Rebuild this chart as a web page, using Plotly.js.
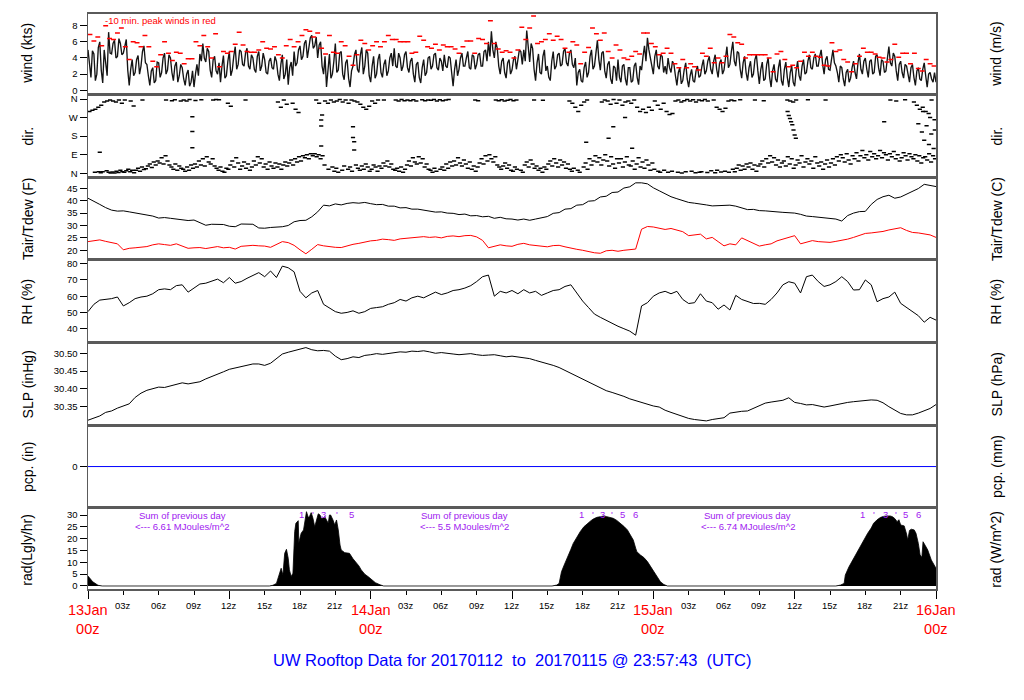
<!DOCTYPE html>
<html><head><meta charset="utf-8">
<script src="https://cdn.plot.ly/plotly-3.0.1.min.js"></script>
<style>html,body{margin:0;padding:0;background:#fff}#chart{width:1024px;height:700px}</style>
</head><body><div id="chart"></div>
<script>
const _ = null;
// ---------------- DATA (hours after 13Jan 00z) ----------------
// wind speed (kts), 15-minute samples on the quarter hour, hours 0..72
const windKts = [
5.0,1.6,4.5,2.0, 6.0,0.9,3.5,7.2, 4.5,6.2,4.2,5.8, 4.6,6.3,0.6,3.8, 2.2,4.3,3.0,5.5, 3.2,0.6,2.8,1.2,
3.4,2.2,4.6,2.5, 4.0,1.2,3.5,1.8, 2.8,0.6,2.5,1.0, 0.4,3.2,4.5,5.8, 3.5,4.8,1.6,4.2, 2.0,1.0,4.3,1.8,
4.8,2.5,5.4,3.2, 4.8,3.0,5.2,2.6, 4.0,2.2,4.8,3.0, 3.8,2.0,4.0,2.6, 3.6,1.2,4.4,2.0, 0.7,3.5,4.8,3.4,
5.5,4.2,6.2,5.0, 6.8,5.5,4.0,6.0, 2.0,0.4,4.5,2.0, 5.8,2.5,4.8,1.3, 3.8,0.4,3.0,5.0, 2.2,5.3,3.0,4.6,
1.0,4.2,2.0,4.5, 1.6,3.8,2.4,4.6, 5.2,2.8,4.0,3.0, 4.8,2.2,4.0,1.0, 3.5,0.9,3.8,2.2, 4.2,3.0,4.6,2.5,
3.6,4.4,2.8,4.0, 0.5,3.8,2.6,4.6, 3.0,4.8,2.6,4.2, 3.2,4.6,3.0,5.0, 6.0,7.3,4.0,5.2, 2.0,4.0,1.5,3.8,
2.5,4.2,3.6,4.8, 5.0,7.4,3.5,5.2, 1.2,4.5,2.0,5.0, 3.0,1.2,4.8,3.0, 4.6,3.2,5.2,3.0, 5.0,2.8,0.6,2.6,
1.0,3.5,2.2,5.0, 3.0,6.2,2.5,4.8, 1.5,3.6,0.8,2.8, 3.8,1.0,3.2,0.6, 2.8,1.2,3.4,0.7, 2.5,5.5,6.5,4.0,
2.0,5.0,2.6,4.2, 3.0,4.0,2.2,3.2, 0.6,2.8,1.2,3.4, 0.4,2.6,1.0,3.0, 1.8,3.8,2.4,4.2, 2.0,4.4,1.6,3.8,
2.5,5.4,3.2,6.0, 3.0,4.6,1.5,4.2, 1.2,3.6,2.0,4.4, 0.8,3.5,1.4,4.0, 0.4,3.2,1.0,3.8, 0.6,3.5,0.4,3.0,
0.5,3.6,1.2,3.8, 2.2,4.4,2.6,4.5, 3.0,5.0,2.0,4.2, 2.5,5.0,3.0,1.0, 2.8,0.5,2.6,1.5, 3.6,1.4,4.5,2.0,
4.0,1.6,3.8,2.2, 4.4,1.8,3.6,2.4, 5.4,3.0,4.2,1.2, 3.6,1.5,3.0,1.0, 3.2,0.6,2.8,1.2, 3.4,0.4,2.2,1.0,
1.0];
// wind speed (kts), samples half-way between the above (7.5 min past each quarter)
const windKtsMid = [
2.8,4.9,1.2,5.3, 2.5,5.0,1.8,4.6, 5.8,4.0,6.4,4.4, 5.5,2.5,2.6,1.8, 3.8,2.0,4.8,3.4, 1.8,2.4,0.9,3.5,
1.6,4.0,2.0,4.4, 2.2,3.0,1.0,3.2, 1.4,2.0,0.5,2.4, 2.0,1.8,3.6,4.0, 5.2,2.5,3.8,2.4, 3.4,3.0,1.5,3.6,
1.8,4.2,2.6,5.0, 3.2,4.6,3.0,4.4, 2.6,4.2,2.4,4.6, 2.2,3.6,2.8,4.2, 2.0,3.2,1.4,3.8, 2.8,1.8,3.0,5.0,
3.8,5.8,4.0,6.5, 5.2,6.6,5.6,3.0, 4.2,2.5,1.5,3.6, 2.2,4.6,2.0,3.4, 1.5,2.4,4.4,2.6, 4.4,2.0,5.0,1.8,
3.0,1.5,3.8,2.2, 3.2,1.8,4.0,3.0, 3.0,4.6,2.4,4.4, 2.8,3.6,2.0,3.2, 1.6,2.8,1.8,4.0, 2.6,4.4,2.8,4.0,
2.4,3.0,4.2,2.2, 2.6,1.8,4.0,3.0, 4.0,2.8,4.4,2.6, 4.4,3.0,4.8,3.6, 4.2,5.0,6.0,3.0, 3.6,2.2,3.4,2.0,
3.8,2.6,5.0,3.2, 3.6,5.6,5.8,2.6, 3.4,2.2,4.2,2.4, 1.6,3.6,2.6,4.4, 3.0,4.8,3.4,4.6, 3.2,4.0,2.2,1.2,
2.8,1.6,4.2,2.6, 4.6,3.8,4.6,2.4, 3.2,1.4,3.0,1.2, 1.6,3.0,1.4,2.8, 1.0,3.0,1.6,3.0, 4.2,3.6,5.0,2.6,
4.2,3.0,4.4,2.2, 2.0,2.8,3.6,1.8, 2.2,0.8,2.6,1.4, 1.8,1.2,2.4,1.6, 3.0,2.0,3.6,2.6, 3.6,2.6,3.4,2.0,
4.0,2.8,4.8,3.6, 4.8,2.6,3.4,2.2, 2.8,1.6,3.8,2.4, 2.6,1.2,3.2,1.6, 2.4,1.4,2.8,1.2, 2.6,1.6,2.2,1.0,
2.4,1.8,3.0,2.0, 3.6,2.8,4.0,3.0, 4.2,3.2,3.8,2.6, 3.8,3.4,2.2,3.0, 1.4,2.2,1.0,2.8, 2.2,3.4,2.6,3.6,
2.6,3.6,2.0,4.2, 2.8,3.8,2.2,4.0, 3.4,4.6,2.4,3.2, 2.2,3.2,2.0,2.8, 1.6,2.4,1.4,2.6, 1.8,2.0,1.4,2.2];
// 10-min peak winds (kts), 3 per hour
const peakKts = [
6.9,6.1,6.6, 5.5,8.0,6.4, 6.3,7.1,7.7, 5.4,3.8,6.0, 5.9,5.4,6.8, 5.4,3.6,2.9, 4.4,6.0,4.6, 3.7,4.7,4.6,
3.3,3.9,3.9, 6.0,5.5,6.8, 5.4,4.0,7.0, 2.9,4.8,4.6, 4.8,5.7,7.2, 5.6,4.8,4.7, 4.7,5.0,6.0, 5.2,5.1,5.4,
4.4,4.0,5.5, 6.3,5.4,6.0, 6.8,7.5,7.3, 6.6,7.1,5.2, 4.5,6.8,4.7, 4.6,6.0,5.5, 4.2,3.1,4.4, 6.2,5.8,5.0,
5.5,6.0,5.4, 6.0,6.8,6.3, 6.3,6.0,6.0, 6.0,4.6,4.7, 6.7,6.2,5.4, 5.2,5.7,5.0, 5.6,5.4,5.4, 5.1,4.6,5.4,
6.1,6.1,4.6, 6.4,6.3,5.8, 8.6,5.8,5.1, 4.7,4.9,4.7, 4.0,5.0,7.8, 6.3,7.7,9.2, 5.8,6.0,6.3, 7.0,6.2,6.7,
6.3,5.2,4.7, 6.0,5.6,3.3, 4.7,5.3,7.7, 7.0,6.2,7.1, 4.8,4.0,5.6, 5.0,4.0,3.8, 4.2,4.8,4.5, 7.1,7.1,5.8,
5.4,4.4,4.6, 5.2,4.6,3.3, 2.8,3.8,2.8, 3.3,2.9,2.5, 4.6,4.2,5.2, 3.4,4.0,3.4, 4.2,6.9,6.6, 5.9,5.7,4.0,
4.4,4.4,4.4, 4.4,4.4,4.0, 2.3,4.5,4.8, 3.8,2.9,3.1, 2.8,3.6,4.7, 4.2,4.7,4.2, 4.1,3.1,3.0, 5.9,4.8,5.0,
3.8,3.5,2.3, 3.3,4.2,5.2, 4.7,4.7,4.5, 4.1,4.0,3.5, 3.8,5.7,4.1, 4.6,4.6,3.3, 4.6,2.7,2.4, 3.8,3.3,3.0];
// wind direction (deg), low band (N..E), 6 per hour
const dirLow = [
_,_,_,5,_,8, 3,8,_,12,5,2, 6,2,10,4,15,8, 5,12,20,8,15,3, 15,25,10,30,18,22, 35,45,28,55,40,60,
50,75,45,85,60,40, 30,20,45,15,35,25, 20,10,30,15,40,25, 45,30,60,40,70,35, 80,55,45,70,35,25, 15,30,10,5,25,20,
40,60,30,75,50,20, 35,55,25,45,15,30, 60,40,80,50,70,30, 45,20,55,35,25,50, 30,45,20,40,55,35, 50,65,40,70,55,80,
60,85,75,90,70,95, 85,95,80,90,70,85, 40,_,20,_,30,10, 25,5,_,15,35,_, 20,30,10,_,40,25, 15,35,20,45,30,10,
20,40,30,10,35,25, 50,35,60,30,45,20, 15,25,10,30,5,20, 40,60,35,75,55,45, 80,50,70,30,45,20, 15,5,25,10,_,20,
30,15,45,25,55,35, 60,40,75,50,35,65, 45,25,55,20,35,10, 30,50,70,45,85,60, 90,70,55,80,40,30, 20,35,50,25,40,15,
10,30,20,_,15,5, 40,55,30,65,45,25, 35,15,25,5,30,20, 45,60,35,70,50,30, 65,40,55,25,45,20, 10,25,_,15,5,_,
30,50,20,70,40,60, 85,55,75,40,65,90, 60,35,80,45,25,70, 50,70,30,55,80,40, 35,60,20,45,75,30, 55,25,65,40,15,50,
20,_,10,5,_,15, _,5,_,10,_,_, 5,_,2,_,8,_, _,10,_,3,_,5, 8,_,_,4,_,12, _,3,15,_,6,_,
10,_,5,_,20,8, 25,40,15,35,20,45, 30,50,20,40,10,35, 45,60,30,70,50,85, 55,75,40,65,30,50, 60,35,80,45,70,25,
40,65,50,85,30,55, 70,45,60,25,80,50, 35,55,20,45,65,30, 50,70,40,80,60,90, 75,55,95,65,45,85, 70,100,60,85,110,75,
90,65,105,80,95,70, 85,110,75,100,90,65, 95,80,105,70,90,60, 75,100,85,65,95,80, 70,90,60,85,50,75, 80,65,95,55,85,70];
// wind direction (deg), upper band (NW..N), 4 per hour
const dirHigh = [
300,305,310,320, 330,345,350,355, 350,345,355,340, 355,_,350,326, _,_,355,_, _,_,_,_,
_,_,355,_, 352,356,_,350, 355,350,357,_, 353,_,356,_, _,_,355,358, 356,_,_,340,
325,_,_,_, _,355,_,_, _,_,_,_, _,_,_,_, 345,320,355,335, _,340,310,295,
_,_,_,_, _,355,340,282, 350,340,355,345, 350,358,345,355, 340,355,350,345, 335,320,310,325,
350,340,355,_, 355,_,_,_, 355,350,358,352, 355,352,356,350, _,356,352,355, 354,357,350,356,
352,355,357,_, _,_,_,_, _,_,_,355, 352,_,_,_, _,_,355,352, 356,350,354,357,
352,355,_,_, _,_,_,355, _,_,354,_, _,_,_,_, _,_,_,350, 340,320,300,330,
345,355,_,_, _,_,345,355, 350,335,358,340, 355,330,345,350, 340,355,320,300, 310,295,320,305,
350,330,310,340, 300,285,290,350, 355,345,352,358, 350,356,345,355, 352,357,350,_, 355,320,310,300,
315,350,355,352, _,356,_,_, _,_,355,_, _,352,_,_, _,_,_,_, _,355,350,345,
355,_,_,_, 356,_,_,_, _,_,355,_, _,_,_,_, _,_,_,_, _,_,_,_,
_,_,_,_, _,_,_,_, 355,_,350,_, _,356,_,_, 345,330,310,320, 300,290,355,260];
// scattered direction readings
const dirOddH = [1.0,8.86,8.86,8.86,19.8,19.8,19.8,22.5,22.5,22.6,22.6,42.3,44.2,44.6,45.6,46.2,
  59.4,59.5,59.6,59.7,59.8,59.9,60.0,60.1,67.6,70.5,70.8,70.9,71.0,71.2,71.4,71.5,71.6,71.8,71.9];
const dirOddD = [102,274,202,124,258,229,132,226,173,153,113,150,170,226,270,121,
  300,280,265,250,235,210,185,170,250,240,200,300,160,230,140,270,190,120,210];
// Tair, Tdew (F), RH (%), SLP (inHg): 30-minute samples, hours 0..72
const tairF = [
41.0,39.6,38.5,37.2,36.2,35.8,35.9,35.5,35.1,34.4,34.2,33.8,33.0,33.2,32.9,32.5,32.2,32.0,32.2,31.2,
30.1,30.5,30.6,30.4,29.7,29.5,30.6,30.4,30.5,29.0,28.9,29.2,29.3,29.5,30.0,31.5,32.0,32.1,33.5,35.5,
38.2,37.9,38.7,38.3,38.9,39.2,39.0,39.3,38.8,38.4,38.5,37.8,37.8,37.1,37.2,36.6,36.6,36.1,35.9,35.4,
35.5,35.0,34.9,34.4,34.6,33.9,34.0,33.5,33.7,32.9,33.3,32.7,32.6,32.2,32.6,32.1,32.6,33.2,33.6,34.9,
35.2,36.6,36.8,38.2,38.4,39.8,40.0,41.5,41.8,43.3,43.5,45.1,45.6,47.2,47.2,46.8,45.2,44.0,42.8,41.6,
40.8,40.0,39.3,39.0,38.5,38.3,37.9,38.1,38.0,38.2,37.8,37.2,36.4,36.5,36.0,35.9,35.6,35.5,35.3,35.2,
35.0,34.5,33.8,33.6,33.4,33.2,33.0,32.6,31.8,34.0,35.0,35.6,35.7,38.5,40.5,41.6,42.2,41.0,41.5,42.6,
43.8,44.9,46.6,46.0,45.7];
const tdewF = [
23.5,23.7,24.2,23.6,23.1,22.6,20.2,20.8,21.0,21.2,21.5,22.2,22.6,22.3,22.0,22.6,21.8,20.8,21.0,21.1,
20.7,21.2,21.5,21.0,21.2,20.5,21.6,21.8,22.0,21.8,21.7,21.2,22.5,23.5,23.1,22.0,20.2,18.6,20.4,22.3,
21.8,21.4,21.2,21.1,21.8,22.4,22.8,23.4,23.8,24.0,24.5,24.3,24.0,24.6,24.8,25.0,25.3,25.5,25.2,25.4,
25.0,25.6,25.8,25.5,25.9,26.0,25.4,24.0,21.0,21.6,22.2,21.8,21.6,22.4,22.8,22.2,22.0,21.6,21.4,21.9,
22.0,21.4,20.8,20.4,20.0,19.4,19.0,18.8,19.8,20.0,19.6,20.0,20.2,20.5,28.5,29.6,29.4,29.0,28.4,28.8,
28.0,27.5,25.9,26.2,26.5,24.6,25.2,23.5,21.8,22.6,22.2,25.0,23.9,23.0,21.7,22.2,22.6,23.8,24.6,25.2,
25.9,22.6,23.2,23.9,23.5,23.2,23.2,23.6,23.9,24.5,25.2,26.0,26.8,27.0,27.2,27.6,28.2,28.5,29.1,28.0,
27.2,27.0,26.6,26.2,25.2];
const rhPct = [
50.5,55.0,57.6,58.0,58.5,59.5,54.0,56.0,58.5,59.5,60.0,61.5,64.0,64.5,64.0,66.5,67.0,62.5,65.0,67.5,
68.0,69.5,70.5,68.3,71.5,68.0,69.0,71.0,73.0,74.5,72.0,75.5,71.5,78.5,77.5,75.0,63.0,59.0,62.0,63.5,
55.0,52.5,50.5,49.5,50.0,51.0,49.5,50.5,52.5,53.0,53.5,55.0,56.0,58.0,57.0,59.0,60.0,59.0,61.0,62.5,
61.0,62.0,63.5,64.0,65.0,66.5,69.0,72.0,73.0,60.0,63.0,62.0,63.5,61.5,64.0,62.0,63.0,60.5,62.0,63.5,
64.0,66.0,67.0,62.0,57.0,53.0,49.0,47.0,45.0,43.0,41.5,40.0,38.5,36.0,54.0,56.0,60.0,62.0,63.0,61.5,
63.0,58.0,55.5,56.0,61.5,57.0,56.0,52.0,54.6,51.5,60.5,58.0,56.5,55.5,55.6,55.0,58.0,62.0,67.0,68.9,
68.0,62.0,72.0,73.0,69.0,66.0,67.0,69.0,72.0,69.0,63.8,64.0,70.0,67.0,56.6,58.5,59.5,62.5,55.6,53.0,
50.5,48.0,44.0,47.0,45.3];
const slpInHg = [
30.312,30.318,30.324,30.334,30.338,30.346,30.352,30.358,30.376,30.388,30.396,30.401,30.405,30.404,30.408,30.412,30.417,30.414,30.416,30.420,
30.428,30.434,30.442,30.448,30.455,30.459,30.462,30.466,30.470,30.470,30.466,30.472,30.485,30.498,30.503,30.508,30.512,30.516,30.510,30.507,
30.508,30.506,30.492,30.482,30.485,30.490,30.488,30.494,30.496,30.499,30.497,30.500,30.502,30.504,30.503,30.506,30.505,30.507,30.504,30.500,
30.502,30.499,30.498,30.496,30.497,30.499,30.496,30.494,30.495,30.496,30.493,30.490,30.492,30.490,30.488,30.485,30.480,30.476,30.471,30.466,
30.460,30.452,30.443,30.434,30.426,30.418,30.410,30.402,30.395,30.390,30.385,30.379,30.372,30.367,30.362,30.356,30.352,30.349,30.340,30.334,
30.328,30.321,30.317,30.314,30.312,30.310,30.314,30.316,30.319,30.332,30.335,30.337,30.338,30.346,30.354,30.360,30.363,30.365,30.368,30.375,
30.362,30.359,30.355,30.356,30.352,30.349,30.352,30.356,30.360,30.362,30.364,30.366,30.368,30.369,30.368,30.361,30.350,30.340,30.331,30.327,
30.327,30.332,30.338,30.345,30.356];
// precipitation (in), hourly
const pcpIn = [0,0,0,0,0,0,0,0,0,0,0,0,0,0,0,0,0,0,0,0,0,0,0,0,0,0,0,0,0,0,0,0,0,0,0,0,0,
  0,0,0,0,0,0,0,0,0,0,0,0,0,0,0,0,0,0,0,0,0,0,0,0,0,0,0,0,0,0,0,0,0,0,0,0];
// solar radiation (Lgly/hr)
const radH = [0,0.4,0.85,1.2,15.4,15.7,16.0,16.2,16.3,16.4,16.55,16.7,16.85,17.0,17.1,17.25,17.4,17.5,17.55,17.65,17.85,17.9,
 18.1,18.3,18.55,18.7,18.8,18.95,19.1,19.25,19.4,19.55,19.7,19.8,19.95,20.1,20.25,20.4,20.5,20.6,20.8,20.95,21.1,21.25,21.4,21.5,
 21.8,22.2,22.5,22.7,23.0,23.2,23.5,23.8,24.1,24.4,24.8,25.1,
 39.4,39.8,40.0,40.2,40.4,40.7,41.0,41.2,41.5,41.8,42.1,42.4,42.7,42.9,43.2,43.5,43.8,44.05,44.3,44.6,44.9,45.2,45.5,45.8,46.0,
 46.3,46.5,46.6,46.9,47.2,47.5,47.8,48.0,48.3,48.6,48.9,49.2,
 63.5,63.9,64.2,64.3,64.6,65.0,65.3,65.6,65.9,66.2,66.5,66.7,67.0,67.3,67.6,67.9,68.1,68.3,68.5,68.7,68.85,69.0,69.3,69.5,69.6,
 69.75,69.9,70.15,70.3,70.5,70.65,70.8,70.9,71.1,71.3,71.6,71.8,72.0];
const radLy = [4.2,1.8,0.3,0,0,0.3,1.1,4,6,7.5,4.6,13.8,15.5,11.7,6.8,4,5.4,18,23,26.5,27.6,18.3,
 22.3,23.7,31.4,29,29.3,31,28.6,25,27.9,30.5,30,28.6,28.6,29.3,27.9,26.5,30,30,27.9,25.8,27.9,23.7,17.3,15.2,
 14.1,13.8,11.5,10.3,8.5,6.8,5.0,3.9,2.5,1.4,0.5,0,
 0,0.4,1.1,6,8.5,11.7,15.5,18,20.8,23,25,26.5,27.6,28.3,29,29.3,29.6,29.3,29,28.6,27.7,26.5,25.2,23.7,22,
 19.4,16,14.5,13.1,12,10.3,8,6,3.8,1.8,0.6,0,
 0,0.4,1.1,4.6,8,11.7,14.5,17.3,20,22.3,24.5,26.5,28,29,29.5,29.6,29.6,29.3,28.5,27.2,28,25.8,25.4,22,19.4,
 23.5,24,23.7,22.3,18,13.1,12.1,18.7,17,15.2,11,9,7.5];
// purple marks along the top of the radiation panel
const radMarkH = [18.1,19.1,20.0,21.1,22.4, 41.9,42.9,43.7,44.5,45.4,46.5, 65.8,66.7,67.7,68.6,69.4,70.5];
const radMarkT = ['1',"'",'3',"'",'5', '1',"'",'3',"'",'5','6', '1',"'",'3',"'",'5','6'];
const sumHours = [8, 32, 56];
const sumMJ = ['6.61', '5.5', '6.74'];
// x tick labels
const hourTickH = [3,6,9,12,15,18,21,27,30,33,36,39,42,45,51,54,57,60,63,66,69];
const hourTickT = ['03z','06z','09z','12z','15z','18z','21z','03z','06z','09z','12z','15z','18z','21z',
                   '03z','06z','09z','12z','15z','18z','21z'];
const dayH = [0, 24, 48, 72];
const dayT = ['13Jan', '14Jan', '15Jan', '16Jan'];
const titleText = 'UW Rooftop Data for 20170112\u00a0\u00a0to\u00a0\u00a020170115 @ 23:57:43\u00a0\u00a0(UTC)';

// ---------------- BUILD ----------------
const FONT = '"Liberation Sans", Arial, Helvetica, sans-serif';
const H = 700, PL = 88, PW = 848;
const TOP0 = 13.5, STEP = 82.65, PH = 79.6;
const FRAME = '#5a5a5a';
function dom(i){ const t = TOP0 + STEP*i; return [1-(t+PH)/H, 1-t/H]; }
function py(p){ return 1 - p/H; }
function px(p){ return (p - PL)/PW; }
function series(n, step, off){ const a=[]; for(let k=0;k<n;k++) a.push(off + k*step); return a; }

// interleave the two wind sample sets into one time-ordered trace
const windX = [], windY = [];
windKts.forEach((v,k)=>{
  windX.push(k*0.25); windY.push(v);
  if (k < windKtsMid.length){ windX.push(k*0.25+0.125); windY.push(windKtsMid[k]); }
});

const KT2MS = 0.514444, INHG2HPA = 33.8639, LY2WM2 = 11.622;
const panels = [
 {l:'wind (kts)', r:'wind (m/s)', range:[-0.35,9.51], conv:v=>v*KT2MS, ltv:[0,2,4,6,8], rtv:[0,1,2,3,4]},
 {l:'dir.', r:'dir.', range:[-11.9,373.8], conv:v=>v, ltv:[0,90,180,270,360], ltt:['N','E','S','W','N'],
   rtv:[0,90,180,270,360], rtt:['N','E','S','W','N']},
 {l:'Tair/Tdew (F)', r:'Tair/Tdew (C)', range:[16.73,48.83], conv:v=>(v-32)/1.8, ltv:[20,25,30,35,40,45], rtv:[-5,0,5]},
 {l:'RH (%)', r:'RH (%)', range:[32.4,81.38], conv:v=>v, ltv:[40,50,60,70,80], rtv:[40,50,60,70,80]},
 {l:'SLP (inHg)', r:'SLP (hPa)', range:[30.3022,30.5258], conv:v=>v*INHG2HPA, ltv:[30.35,30.40,30.45,30.50],
   ltt:['30.35','30.40','30.45','30.50'], rtv:[1028,1030,1032]},
 {l:'pcp. (in)', r:'pcp. (mm)', range:[-1,1], conv:v=>v*25.4, ltv:[0], rtv:[0]},
 {l:'rad(Lgly/hr)', r:'rad (W/m^2)', range:[-1.27,32.37], conv:v=>v*LY2WM2, ltv:[0,5,10,15,20,25,30], rtv:[0,100,200,300]}
];

const layout = {
  width:1024, height:700, margin:{l:PL, r:1024-PL-PW, t:0, b:0},
  paper_bgcolor:'#fff', plot_bgcolor:'#fff', showlegend:false,
  font:{family:FONT, size:9.5, color:'#000'}, annotations:[], hovermode:false
};
panels.forEach((p,i)=>{
  const n=i+1, sx = n===1 ? '' : String(n), rx = String(n+7);
  const d = dom(i);
  layout['xaxis'+sx] = {domain:[0,1], range:[0,72], anchor:'y'+sx, showline:true, mirror:true,
    linecolor:FRAME, linewidth:1.5, showgrid:false, zeroline:false, showticklabels:false, ticks:'', fixedrange:true};
  layout['yaxis'+sx] = {domain:d, range:p.range, anchor:'x'+sx, tickmode:'array', tickvals:p.ltv,
    ticktext:p.ltt || p.ltv.map(String), ticks:'outside', ticklen:7, tickwidth:1, tickcolor:'#000',
    showline:true, mirror:true, linecolor:FRAME, linewidth:1.5, showgrid:false, zeroline:false,
    fixedrange:true, tickfont:{size:9.5, family:FONT}};
  layout['yaxis'+rx] = {overlaying:'y'+sx, side:'right', anchor:'x'+sx, range:p.range.map(p.conv),
    tickmode:'array', tickvals:p.rtv, ticktext:p.rtt || p.rtv.map(String), ticks:'outside', ticklen:7,
    tickwidth:1, tickcolor:'#000', showline:false, showgrid:false, zeroline:false, fixedrange:true,
    tickfont:{size:9.5, family:FONT}};
  const yc = (d[0]+d[1])/2;
  layout.annotations.push({xref:'paper', yref:'paper', x:px(27.5), y:yc, text:p.l, textangle:-90,
    showarrow:false, font:{size:14, family:FONT, color:'#000'}, xanchor:'center', yanchor:'middle'});
  layout.annotations.push({xref:'paper', yref:'paper', x:px(996.5), y:yc, text:p.r, textangle:-90,
    showarrow:false, font:{size:14, family:FONT, color:'#000'}, xanchor:'center', yanchor:'middle'});
});
Object.assign(layout.xaxis7, {ticks:'outside', tickmode:'linear', tick0:0, dtick:12, ticklen:8, tickwidth:1,
  tickcolor:'#000', minor:{dtick:3, ticks:'outside', ticklen:4, tickwidth:1, tickcolor:'#000'}});

// x labels
hourTickH.forEach((h,k)=>layout.annotations.push({xref:'x7', yref:'paper', x:h, y:py(605.5), text:hourTickT[k],
  showarrow:false, font:{size:9.5, family:FONT, color:'#000'}, xanchor:'center', yanchor:'middle'}));
dayH.forEach((h,k)=>layout.annotations.push({xref:'x7', yref:'paper', x:h, y:py(619), text:dayT[k]+'<br>00z',
  showarrow:false, font:{size:14.5, family:FONT, color:'#ff0000'}, xanchor:'center', yanchor:'middle'}));
// title
layout.annotations.push({xref:'paper', yref:'paper', x:px(511.5), y:py(660), text:titleText, showarrow:false,
  font:{size:16.5, family:FONT, color:'#0000ff'}, xanchor:'center', yanchor:'middle'});
// wind note
layout.annotations.push({xref:'paper', yref:'paper', x:px(102.5), y:py(20), text:'-10 min. peak winds in red',
  showarrow:false, font:{size:9.5, family:FONT, color:'#ff0000'}, xanchor:'left', yanchor:'middle'});
// radiation notes
const PURPLE = '#a020f0';
sumHours.forEach((h,k)=>{
  layout.annotations.push({xref:'x7', yref:'paper', x:h, y:py(515.5), text:'Sum of previous day', showarrow:false,
    font:{size:9.5, family:FONT, color:PURPLE}, xanchor:'center', yanchor:'middle'});
  layout.annotations.push({xref:'x7', yref:'paper', x:h, y:py(526.5), text:'&lt;--- '+sumMJ[k]+' MJoules/m^2',
    showarrow:false, font:{size:9.5, family:FONT, color:PURPLE}, xanchor:'center', yanchor:'middle'});
});
radMarkH.forEach((h,k)=>layout.annotations.push({xref:'x7', yref:'paper', x:h, y:py(514.5), text:radMarkT[k],
  showarrow:false, font:{size:9.5, family:FONT, color:PURPLE}, xanchor:'center', yanchor:'middle'}));

// traces
const dashMarker = (c,s,w)=>({symbol:'line-ew', size:s, color:c, line:{color:c, width:w}});
const traces = [
  {x:windX, y:windY, xaxis:'x', yaxis:'y', mode:'lines', line:{color:'#141414', width:1.35}},
  {x:series(peakKts.length,1/3,1/6), y:peakKts, xaxis:'x', yaxis:'y', mode:'markers', marker:dashMarker('#ff0000',3.5,1.5)},
  {x:series(dirLow.length,1/6,1/12), y:dirLow, xaxis:'x2', yaxis:'y2', mode:'markers', marker:dashMarker('#000',3,1.5)},
  {x:series(dirHigh.length,0.25,0.125), y:dirHigh, xaxis:'x2', yaxis:'y2', mode:'markers', marker:dashMarker('#000',3,1.5)},
  {x:dirOddH, y:dirOddD, xaxis:'x2', yaxis:'y2', mode:'markers', marker:dashMarker('#000',3,1.5)},
  {x:series(tairF.length,0.5,0), y:tairF, xaxis:'x3', yaxis:'y3', mode:'lines', line:{color:'#000', width:1}},
  {x:series(tdewF.length,0.5,0), y:tdewF, xaxis:'x3', yaxis:'y3', mode:'lines', line:{color:'#ff0000', width:1}},
  {x:series(rhPct.length,0.5,0), y:rhPct, xaxis:'x4', yaxis:'y4', mode:'lines', line:{color:'#000', width:1}},
  {x:series(slpInHg.length,0.5,0), y:slpInHg, xaxis:'x5', yaxis:'y5', mode:'lines', line:{color:'#000', width:1}},
  {x:series(pcpIn.length,1,0), y:pcpIn, xaxis:'x6', yaxis:'y6', mode:'lines', line:{color:'#0000ff', width:1}},
  {x:radH, y:radLy, xaxis:'x7', yaxis:'y7', mode:'lines', fill:'tozeroy', fillcolor:'#000', line:{color:'#000', width:0.8}}
];
Plotly.newPlot('chart', traces, layout, {staticPlot:true, displayModeBar:false});
</script>
</body></html>
